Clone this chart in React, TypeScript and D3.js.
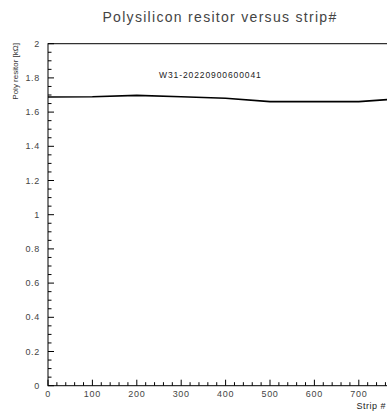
import React from "react";
import * as d3 from "d3";

const strips = [0, 100, 200, 300, 400, 500, 600, 700, 800];
const resistance = [1.688, 1.69, 1.698, 1.69, 1.681, 1.661, 1.661, 1.661, 1.68];
const xTicks = [0, 100, 200, 300, 400, 500, 600, 700];
const yTicks = [0, 0.2, 0.4, 0.6, 0.8, 1, 1.2, 1.4, 1.6, 1.8, 2];
const title = "Polysilicon resitor versus strip#";
const annotation = "W31-20220900600041";
const xLabel = "Strip #";
const yLabel = "Poly resitor [kΩ]";

export default function App() {
  const W = 387, H = 412;
  const x = d3.scaleLinear().domain([0, 800]).range([48, 403.2]);
  const y = d3.scaleLinear().domain([0, 2]).range([385.7, 43.7]);
  const line = d3.line<number>().x((_, i) => x(strips[i])).y((d) => y(d));
  const xMinor = d3.range(0, 801, 20);
  const yMinor = d3.range(0, 2.0001, 0.05);
  const font = "'Liberation Sans', Arial, sans-serif";
  const tickColor = "#444";
  return (
    <svg width={W} height={H} style={{ position: "absolute", left: 0, top: 0 }}>
      <rect x={0} y={0} width={W} height={H} fill="#fff" />
      <text x={220} y={22} textAnchor="middle" fontFamily={font} fontSize={14} fill="#444" letterSpacing={1.3}>
        {title}
      </text>
      {/* frame */}
      <rect x={x(0)} y={y(2)} width={x(800) - x(0)} height={y(0) - y(2)} fill="none" stroke="#000" strokeWidth={1} />
      {/* x ticks */}
      {xMinor.map((v) => {
        const major = v % 100 === 0;
        return (
          <line key={"xm" + v} x1={x(v)} x2={x(v)} y1={y(0)} y2={y(0) - (major ? 6 : 3.5)} stroke="#000" strokeWidth={1} />
        );
      })}
      {yMinor.map((v, i) => {
        const major = i % 4 === 0;
        return (
          <line key={"ym" + i} x1={x(0)} x2={x(0) + (major ? 6 : 3.5)} y1={y(v)} y2={y(v)} stroke="#000" strokeWidth={1} />
        );
      })}
      {xTicks.map((v) => (
        <text key={"xl" + v} x={x(v)} y={397} textAnchor="middle" fontFamily={font} fontSize={9} fill={tickColor} letterSpacing={0.7}>
          {v}
        </text>
      ))}
      {yTicks.map((v) => (
        <text key={"yl" + v} x={40} y={y(v) + 3} textAnchor="end" fontFamily={font} fontSize={9} fill={tickColor} letterSpacing={0.7}>
          {d3.format("~g")(v)}
        </text>
      ))}
      <text x={386} y={409} textAnchor="end" fontFamily={font} fontSize={9} fill="#222" letterSpacing={0.5}>
        {xLabel}
      </text>
      <text transform={`translate(18,43) rotate(-90)`} textAnchor="end" fontFamily={font} fontSize={8} fill="#333">
        {yLabel}
      </text>
      <text x={159} y={78} fontFamily={font} fontSize={8.5} fill="#222" letterSpacing={0.9}>
        {annotation}
      </text>
      <path d={line(resistance) || ""} fill="none" stroke="#000" strokeWidth={1.6} />
    </svg>
  );
}
